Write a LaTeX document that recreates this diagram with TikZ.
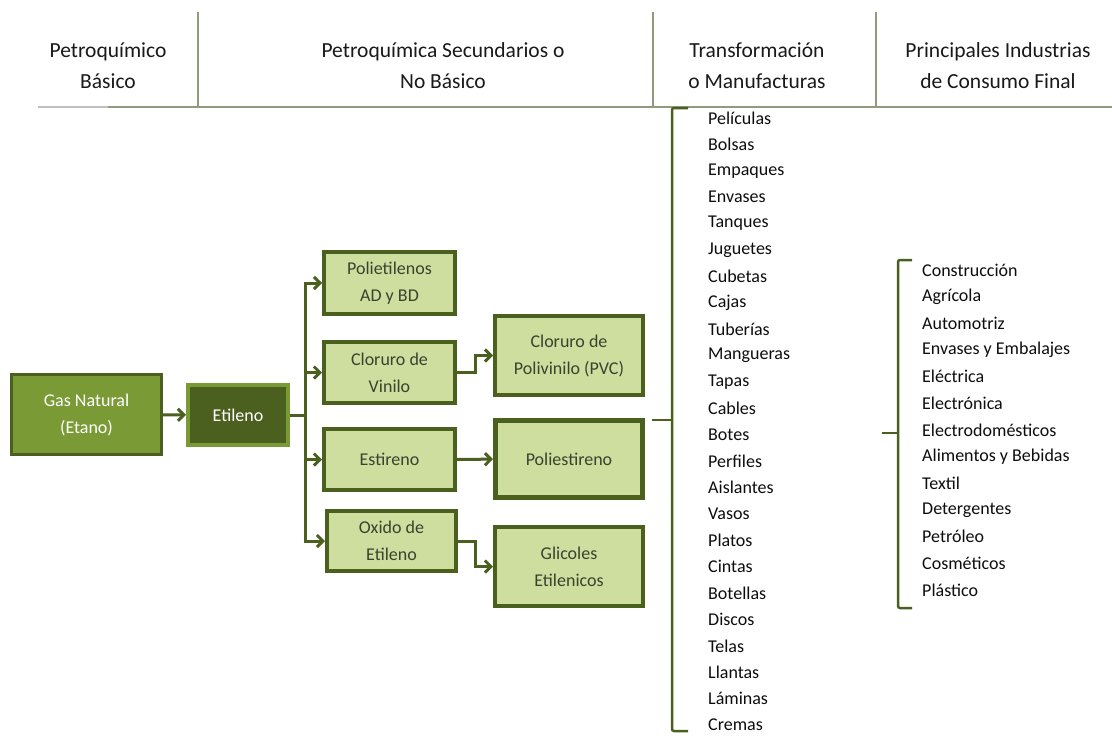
\documentclass[tikz,border=0pt]{standalone}
\usepackage{fontspec}
\setmainfont{Carlito}
\usetikzlibrary{arrows.meta}
\definecolor{verdeosc}{HTML}{4B5F1F}
\definecolor{verdemed}{HTML}{7A9A36}
\definecolor{verdecla}{HTML}{CEDE9E}
\definecolor{linea}{HTML}{8E9C7C}
\definecolor{texto}{HTML}{3A4230}
\begin{document}
\begin{tikzpicture}[x=1pt,y=-1pt,>={Straight Barb[length=6pt,width=12pt]},
    caja/.style={draw=verdeosc,fill=verdecla,line width=4pt,inner sep=0pt,align=center,
        font=\fontsize{18}{27}\selectfont,text=texto},
    flecha/.style={->,draw=verdeosc,line width=3pt},
    llave/.style={draw=verdeosc,line width=2.5pt,rounded corners=2pt},
    titulo/.style={align=center,font=\fontsize{21.5}{31}\selectfont,text=black!90},
    item/.style={anchor=west,inner sep=0pt,font=\fontsize{18}{20}\selectfont,text=black!95}]
    \useasboundingbox(0,0)rectangle(1112,736);
    % encabezado
    \draw[linea,line width=1.2pt](38,107)--(1112,107);
    \draw[black!25,line width=2pt](38,106.5)--(108,106.5);
    \foreach \x in{198,653,876}\draw[linea,line width=1.2pt](\x,12)--(\x,107);
    \node[titulo](h1)at(108,66){Petroquímico\\Básico};
    \node[titulo](h2)at(443,66){Petroquímica Secundarios o\\No Básico};
    \node[titulo](h3)at(757,66){Transformación\\o Manufacturas};
    \node[titulo](h4)at(998,66){Principales Industrias\\de Consumo Final};
    % cajas
    \node[caja,fill=verdemed,line width=3pt,text=white,minimum width=150pt,minimum height=80pt](gas)at(86.5,414.5){Gas Natural\\(Etano)};
    \node[caja,draw=verdemed,fill=verdeosc,text=white,minimum width=100pt,minimum height=60pt](eti)at(238,415){Etileno};
    \node[caja,minimum width=131pt,minimum height=62pt](pe)at(389.5,283){Polietilenos\\AD y BD};
    \node[caja,minimum width=131pt,minimum height=61pt](cv)at(389.5,372.5){Cloruro de\\Vinilo};
    \node[caja,minimum width=131pt,minimum height=61pt](est)at(389.5,459.5){Estireno};
    \node[caja,minimum width=129pt,minimum height=60pt](oxe)at(391.5,541){Oxido de\\Etileno};
    \node[caja,minimum width=148pt,minimum height=79pt](pvc)at(569,355.5){Cloruro de\\Polivinilo (PVC)};
    \node[caja,line width=5pt,minimum width=147pt,minimum height=77pt](pest)at(569,459){Poliestireno};
    \node[caja,minimum width=148pt,minimum height=79pt](gli)at(569,566.5){Glicoles\\Etilenicos};
    % flechas
    \coordinate(tr)at(305,415);
    \draw[flecha](gas)--(eti);
    \draw[flecha,-](eti)--(tr);
    \foreach \n in{pe,cv,est,oxe}\draw[flecha](tr)|-(\n);
    \draw[flecha](cv.east)--++(18,0)|-(pvc);
    \draw[flecha](est)--(pest);
    \draw[flecha](oxe.east)--++(17,0)|-(gli);
    % llaves
    \draw[llave](688,108)--(672,108)--(672,731)--(688,731);
    \draw[llave](652,420)--(672,420);
    \draw[llave](912,260)--(898,260)--(898,608)--(912,608);
    \draw[llave](882,433)--(898,433);
    % listas
    \foreach \t[count=\i] in{Películas,Bolsas,Empaques,Envases,Tanques,Juguetes,Cubetas,Cajas,Tuberías,Mangueras,Tapas,Cables,Botes,Perfiles,Aislantes,Vasos,Platos,Cintas,Botellas,Discos,Telas,Llantas,Láminas,Cremas}
        \node[item](m\i)at(708,{118+26.4*(\i-1)}){\t};
    \foreach \t[count=\i] in{Construcción,Agrícola,Automotriz,Envases y Embalajes,Eléctrica,Electrónica,Electrodomésticos,Alimentos y Bebidas,Textil,Detergentes,Petróleo,Cosméticos,Plástico}
        \node[item](c\i)at(922,{270+26.67*(\i-1)}){\t};
\end{tikzpicture}
\end{document}
